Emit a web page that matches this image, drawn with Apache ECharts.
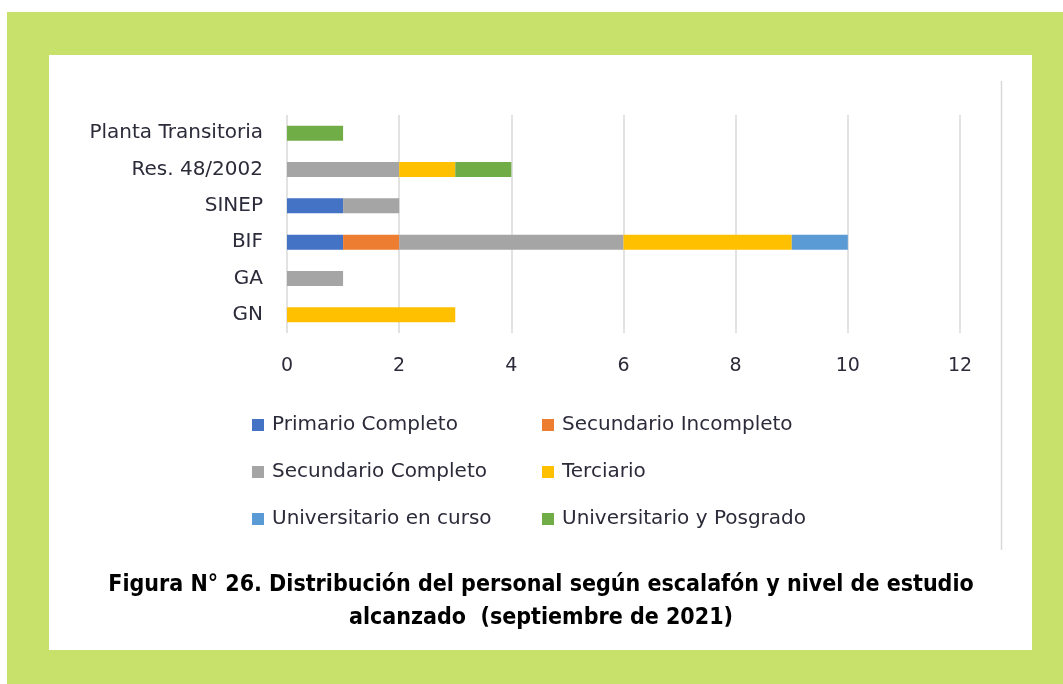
<!DOCTYPE html>
<html>
<head>
<meta charset="utf-8">
<script src="https://cdn.jsdelivr.net/npm/echarts@6/dist/echarts.min.js"></script>
<style>
  html, body { margin: 0; padding: 0; background: #fff; }
  #chart { width: 1063px; height: 684px; }
</style>
</head>
<body>
<div id="chart"></div>
<script>
// categorías (de abajo hacia arriba)
const categorias = ['GN', 'GA', 'BIF', 'SINEP', 'Res. 48/2002', 'Planta Transitoria']
const primario = [0, 0, 1, 1, 0, 0]
const secIncompleto = [0, 0, 1, 0, 0, 0]
const secCompleto = [0, 1, 4, 1, 2, 0]
const terciario = [3, 0, 3, 0, 1, 0]
const univCurso = [0, 0, 1, 0, 0, 0]
const univPosgrado = [0, 0, 0, 0, 1, 1]
const ticksX = [0, 2, 4, 6, 8, 10, 12]

const series = [
  { name: 'Primario Completo', data: primario, color: '#4472C4' },
  { name: 'Secundario Incompleto', data: secIncompleto, color: '#ED7D31' },
  { name: 'Secundario Completo', data: secCompleto, color: '#A5A5A5' },
  { name: 'Terciario', data: terciario, color: '#FFC000' },
  { name: 'Universitario en curso', data: univCurso, color: '#5B9BD5' },
  { name: 'Universitario y Posgrado', data: univPosgrado, color: '#70AD47' }
]

const verde = '#C8E16A'
const fuente = 'DejaVu Sans'
const texto = '#2b2b3a'
let myChart = echarts.init(document.getElementById('chart'))

const legendStyle = {
  orient: 'vertical',
  icon: 'rect',
  itemWidth: 12,
  itemHeight: 12,
  itemGap: 27,
  textStyle: { fontFamily: fuente, fontSize: 20, color: texto, padding: [0, 0, 0, 3] }
}

myChart.setOption({
  animation: false,
  graphic: [
    { type: 'rect', z: -10, shape: { x: 7, y: 12, width: 1056, height: 672 }, style: { fill: verde } },
    { type: 'rect', z: -9, shape: { x: 49, y: 55, width: 983, height: 595 }, style: { fill: '#fff' } },
    { type: 'line', z: -8, shape: { x1: 1001.5, y1: 81, x2: 1001.5, y2: 550 }, style: { stroke: '#D9D9D9', lineWidth: 1.5 } },
    {
      type: 'text', x: 541, y: 569,
      style: {
        text: 'Figura N° 26. Distribución del personal según escalafón y nivel de estudio\nalcanzado  (septiembre de 2021)',
        font: 'bold 23px "DejaVu Sans Condensed", "Roboto", sans-serif',
        fill: '#000', align: 'center', lineHeight: 33
      }
    }
  ],
  grid: { left: 287, right: 103, top: 115, bottom: 351, containLabel: false },
  legend: [
    { ...legendStyle, left: 247, top: 410, data: [series[0].name, series[2].name, series[4].name] },
    { ...legendStyle, left: 537, top: 410, data: [series[1].name, series[3].name, series[5].name] }
  ],
  xAxis: {
    type: 'value',
    min: ticksX[0],
    max: ticksX[ticksX.length - 1],
    interval: 2,
    axisLine: { show: false },
    axisTick: { show: false },
    splitLine: { lineStyle: { color: '#D9D9D9', width: 1.5 } },
    axisLabel: { fontFamily: fuente, fontSize: 19, color: texto, margin: 24 }
  },
  yAxis: {
    type: 'category',
    data: categorias,
    axisLine: { show: false },
    axisTick: { show: false },
    axisLabel: { fontFamily: fuente, fontSize: 20, color: texto, margin: 24 }
  },
  series: series.map(s => ({
    name: s.name,
    type: 'bar',
    stack: 'total',
    barWidth: 15,
    itemStyle: { color: s.color },
    data: s.data
  }))
})
</script>
</body>
</html>
